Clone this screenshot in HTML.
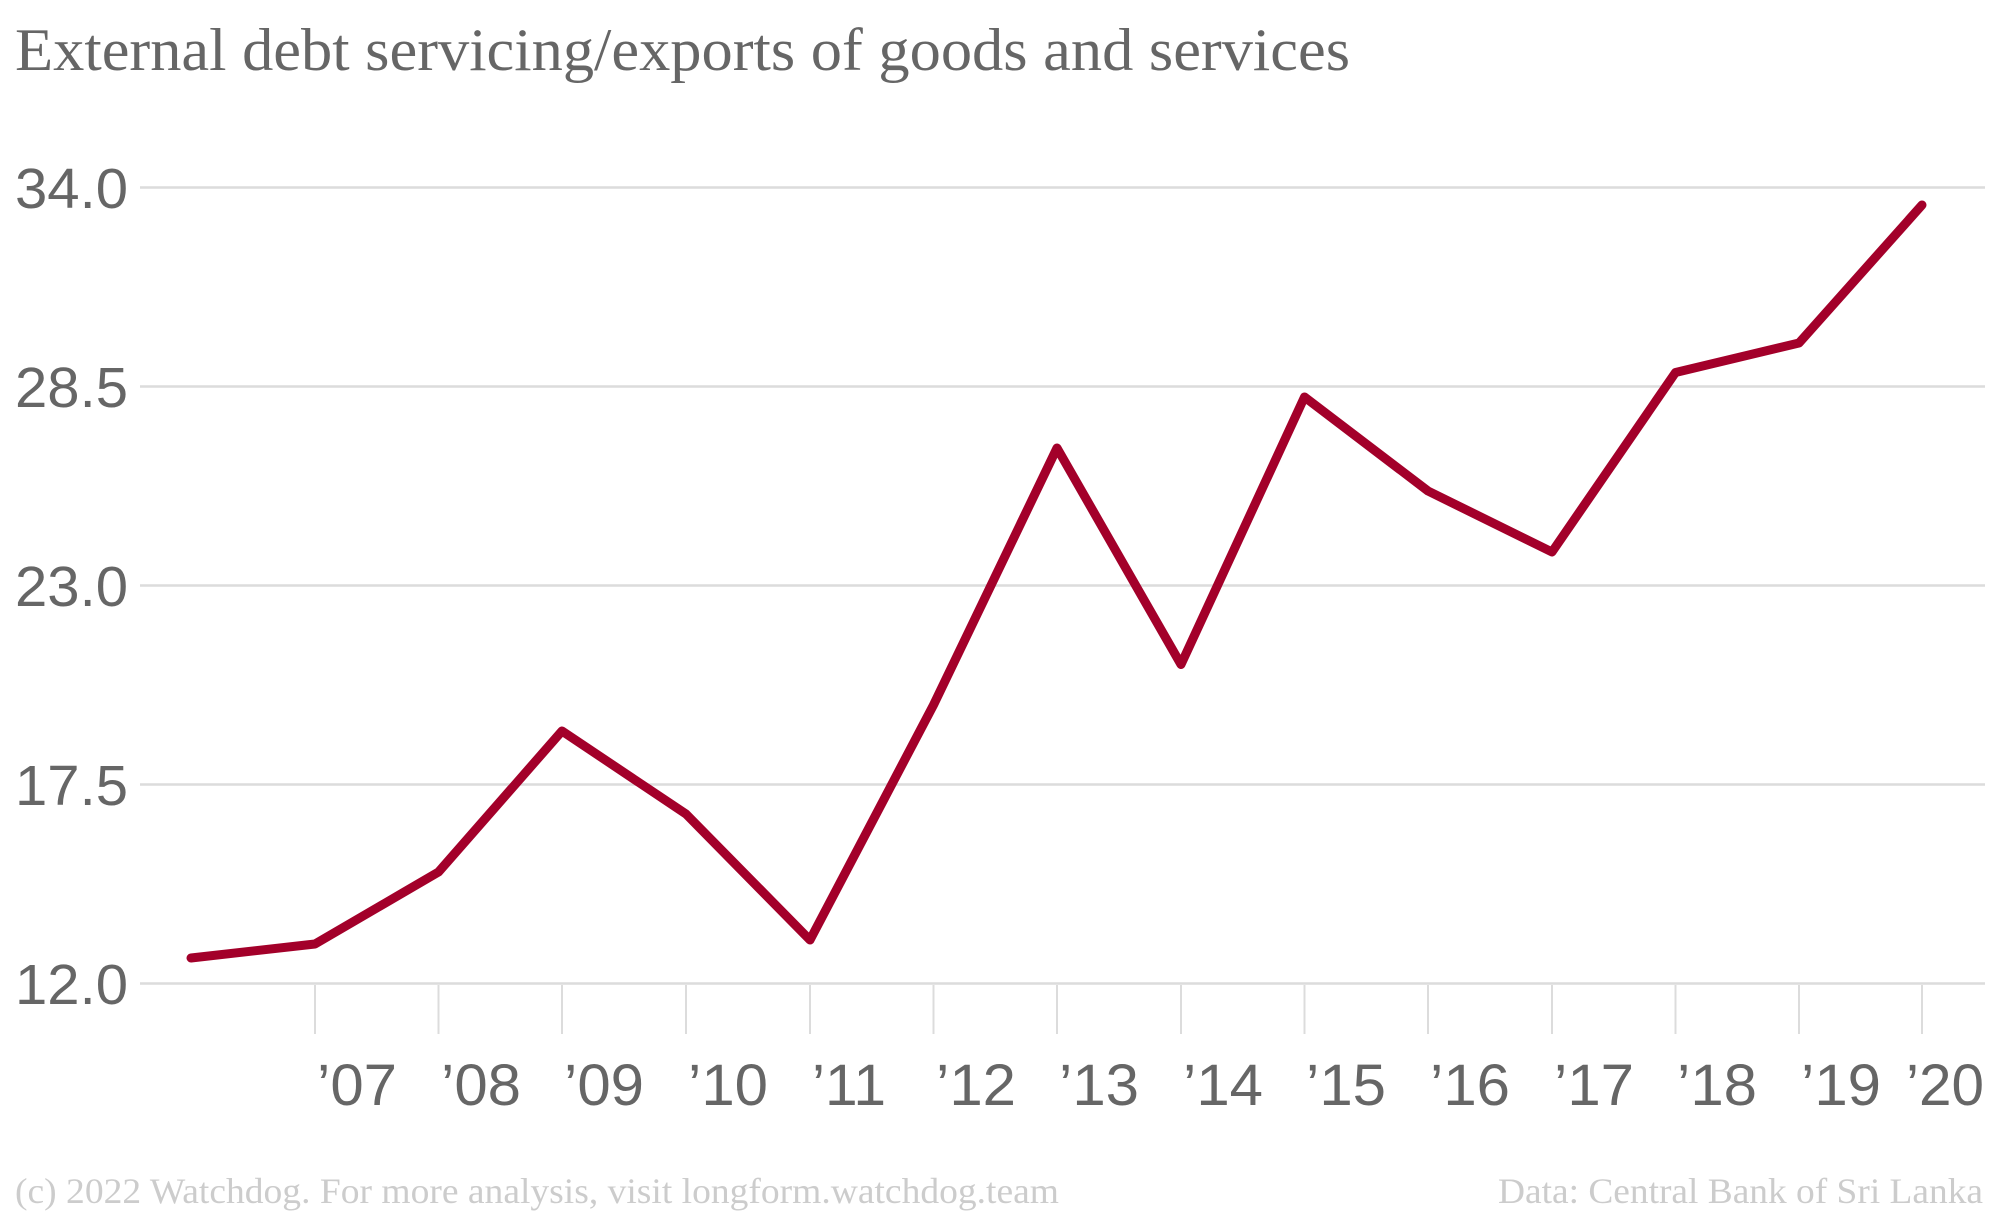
<!DOCTYPE html>
<html><head><meta charset="utf-8"><style>html,body{margin:0;padding:0;background:#fff}svg{display:block}</style></head>
<body>
<svg width="2000" height="1213" viewBox="0 0 2000 1213" xmlns="http://www.w3.org/2000/svg">
<text x="15" y="70" font-family="Liberation Serif" font-size="60" fill="#666" textLength="1335" lengthAdjust="spacingAndGlyphs">External debt servicing/exports of goods and services</text>
<g stroke="#dcdcdc" stroke-width="2.5">
<line x1="140" y1="187.5" x2="1985" y2="187.5"/>
<line x1="140" y1="386.5" x2="1985" y2="386.5"/>
<line x1="140" y1="585.5" x2="1985" y2="585.5"/>
<line x1="140" y1="784.5" x2="1985" y2="784.5"/>
<line x1="140" y1="983.5" x2="1985" y2="983.5"/>
</g>
<g stroke="#dcdcdc" stroke-width="2">
<line x1="315" y1="985" x2="315" y2="1034"/><line x1="438.5" y1="985" x2="438.5" y2="1034"/><line x1="562" y1="985" x2="562" y2="1034"/><line x1="686" y1="985" x2="686" y2="1034"/><line x1="810" y1="985" x2="810" y2="1034"/><line x1="933.5" y1="985" x2="933.5" y2="1034"/><line x1="1057" y1="985" x2="1057" y2="1034"/><line x1="1181" y1="985" x2="1181" y2="1034"/><line x1="1304.5" y1="985" x2="1304.5" y2="1034"/><line x1="1428" y1="985" x2="1428" y2="1034"/><line x1="1552" y1="985" x2="1552" y2="1034"/><line x1="1675.5" y1="985" x2="1675.5" y2="1034"/><line x1="1799" y1="985" x2="1799" y2="1034"/><line x1="1922" y1="985" x2="1922" y2="1034"/>
</g>
<g font-family="Liberation Sans" font-size="57" fill="#666">
<text x="15" y="208" textLength="113" lengthAdjust="spacingAndGlyphs">34.0</text>
<text x="15" y="407" textLength="113" lengthAdjust="spacingAndGlyphs">28.5</text>
<text x="15" y="606" textLength="113" lengthAdjust="spacingAndGlyphs">23.0</text>
<text x="15" y="805" textLength="113" lengthAdjust="spacingAndGlyphs">17.5</text>
<text x="15" y="1004" textLength="113" lengthAdjust="spacingAndGlyphs">12.0</text>
</g>
<g font-family="Liberation Sans" font-size="58" fill="#666">
<text x="317" y="1105" textLength="80" lengthAdjust="spacingAndGlyphs">’07</text>
<text x="441" y="1105" textLength="80" lengthAdjust="spacingAndGlyphs">’08</text>
<text x="564" y="1105" textLength="80" lengthAdjust="spacingAndGlyphs">’09</text>
<text x="688" y="1105" textLength="80" lengthAdjust="spacingAndGlyphs">’10</text>
<text x="812" y="1105" textLength="74" lengthAdjust="spacingAndGlyphs">’11</text>
<text x="936" y="1105" textLength="80" lengthAdjust="spacingAndGlyphs">’12</text>
<text x="1059" y="1105" textLength="80" lengthAdjust="spacingAndGlyphs">’13</text>
<text x="1183" y="1105" textLength="80" lengthAdjust="spacingAndGlyphs">’14</text>
<text x="1306" y="1105" textLength="80" lengthAdjust="spacingAndGlyphs">’15</text>
<text x="1430" y="1105" textLength="80" lengthAdjust="spacingAndGlyphs">’16</text>
<text x="1554" y="1105" textLength="80" lengthAdjust="spacingAndGlyphs">’17</text>
<text x="1677" y="1105" textLength="80" lengthAdjust="spacingAndGlyphs">’18</text>
<text x="1801" y="1105" textLength="80" lengthAdjust="spacingAndGlyphs">’19</text>
<text x="1906" y="1105" textLength="78" lengthAdjust="spacingAndGlyphs">’20</text>
</g>
<polyline fill="none" stroke="#a3002a" stroke-width="9" stroke-linejoin="round" stroke-linecap="round"
points="191,958 315,944 438.5,872 562,731 686,814 810,940 933.5,705 1057,448 1181,664.5 1304.5,397 1428,491 1552,552 1675.5,372.5 1799,343 1922,205"/>
<text x="15" y="1203" font-family="Liberation Serif" font-size="36" fill="#cccccc" textLength="1044" lengthAdjust="spacingAndGlyphs">(c) 2022 Watchdog. For more analysis, visit longform.watchdog.team</text>
<text x="1983" y="1203" text-anchor="end" font-family="Liberation Serif" font-size="36" fill="#cccccc" textLength="485" lengthAdjust="spacingAndGlyphs">Data: Central Bank of Sri Lanka</text>
</svg>
</body></html>
